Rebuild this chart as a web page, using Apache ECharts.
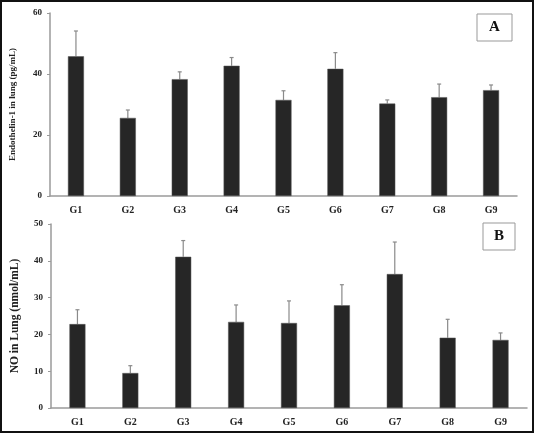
<!DOCTYPE html>
<html>
<head>
<meta charset="utf-8">
<script src="https://cdn.jsdelivr.net/npm/echarts@6/dist/echarts.min.js"></script>
<style>
  html, body { margin: 0; padding: 0; background: #fff; }
  #chart { width: 536px; height: 434px; }
</style>
</head>
<body>
<div id="chart"></div>
<script>
// data
var groups = ['G1', 'G2', 'G3', 'G4', 'G5', 'G6', 'G7', 'G8', 'G9'];
var et1Mean = [45.8, 25.6, 38.3, 42.7, 31.5, 41.7, 30.3, 32.4, 34.7];
var et1Err = [8.3, 2.6, 2.4, 2.7, 3.0, 5.3, 1.2, 4.3, 1.7];
var noMean = [22.8, 9.5, 41.1, 23.4, 23.1, 27.9, 36.4, 19.1, 18.5];
var noErr = [3.9, 2.0, 4.4, 4.6, 6.0, 5.6, 8.7, 5.0, 1.9];

(function() {
    var myChart = echarts.init(document.getElementById('chart'));
    var serif = '"Liberation Serif", "DejaVu Serif", serif';
    var axisGray = '#9a9a9a';
    var barColor = '#262626';

    function errData(mean, err) {
        return mean.map(function(m, i) { return [i, m, m + err[i]]; });
    }

    // upper error bar: stem + short cap
    function renderErr(params, api) {
        var base = api.coord([api.value(0), api.value(1)]);
        var top = api.coord([api.value(0), api.value(2)]);
        var style = { stroke: '#8a8a8a', lineWidth: 1.2 };
        return {
            type: 'group',
            children: [
                { type: 'line', shape: { x1: base[0], y1: base[1], x2: top[0], y2: top[1] }, style: style },
                { type: 'line', shape: { x1: top[0] - 2, y1: top[1], x2: top[0] + 2, y2: top[1] }, style: style }
            ]
        };
    }

    function xAxisCfg(gridIndex) {
        return {
            type: 'category',
            gridIndex: gridIndex,
            data: groups,
            axisLine: { lineStyle: { color: axisGray, width: 1.5 } },
            axisTick: { show: false },
            axisLabel: { color: '#222', fontFamily: serif, fontWeight: 'bold', fontSize: 10, margin: 9 }
        };
    }

    function yAxisCfg(gridIndex, max, interval, name, nameSize, gap) {
        return {
            type: 'value',
            gridIndex: gridIndex,
            min: 0,
            max: max,
            interval: interval,
            name: name,
            nameLocation: 'middle',
            nameRotate: 90,
            nameGap: gap,
            nameTextStyle: { color: '#222', fontFamily: serif, fontWeight: 'bold', fontSize: nameSize },
            axisLine: { show: true, lineStyle: { color: axisGray, width: 1.5 } },
            axisTick: { show: true, length: 3, lineStyle: { color: axisGray } },
            splitLine: { show: false },
            axisLabel: { color: '#222', fontFamily: serif, fontWeight: 'bold', fontSize: 9, margin: 8 }
        };
    }

    var option = {
        backgroundColor: '#fff',
        animation: false,
        grid: [
            { left: 49, right: 19, top: 13, bottom: 238 },
            { left: 51, right: 9, top: 224, bottom: 26 }
        ],
        xAxis: [xAxisCfg(0), xAxisCfg(1)],
        yAxis: [
            yAxisCfg(0, 60, 20, 'Endothelin-1 in lung (pg/mL)', 9, 33),
            yAxisCfg(1, 50, 10, 'NO in Lung (nmol/mL)', 11.5, 30)
        ],
        series: [
            {
                name: 'ET-1',
                type: 'bar',
                xAxisIndex: 0,
                yAxisIndex: 0,
                barWidth: 16,
                data: et1Mean,
                itemStyle: { color: barColor, borderColor: '#555', borderWidth: 0.5 }
            },
            {
                type: 'custom',
                xAxisIndex: 0,
                yAxisIndex: 0,
                renderItem: renderErr,
                encode: { x: 0, y: [1, 2] },
                data: errData(et1Mean, et1Err),
                z: 1
            },
            {
                name: 'NO',
                type: 'bar',
                xAxisIndex: 1,
                yAxisIndex: 1,
                barWidth: 16,
                data: noMean,
                itemStyle: { color: barColor, borderColor: '#555', borderWidth: 0.5 }
            },
            {
                type: 'custom',
                xAxisIndex: 1,
                yAxisIndex: 1,
                renderItem: renderErr,
                encode: { x: 0, y: [1, 2] },
                data: errData(noMean, noErr),
                z: 1
            }
        ],
        graphic: [
            // outer frame
            { type: 'rect', shape: { x: 1, y: 1, width: 532, height: 431 }, style: { fill: 'none', stroke: '#111', lineWidth: 2 }, silent: true },
            // panel tags
            { type: 'rect', shape: { x: 477, y: 14, width: 35, height: 27 }, style: { fill: '#fff', stroke: '#999', lineWidth: 1 } },
            { type: 'text', x: 494.5, y: 27.5, style: { text: 'A', fill: '#111', font: 'bold 15px "Liberation Serif", serif', align: 'center', verticalAlign: 'middle' } },
            { type: 'rect', shape: { x: 483, y: 223, width: 32, height: 27 }, style: { fill: '#fff', stroke: '#999', lineWidth: 1 } },
            { type: 'text', x: 499, y: 236.5, style: { text: 'B', fill: '#111', font: 'bold 15px "Liberation Serif", serif', align: 'center', verticalAlign: 'middle' } }
        ]
    };
    myChart.setOption(option);
    window.addEventListener('resize', function() {
        myChart.resize();
    });
})();
</script>
</body>
</html>
